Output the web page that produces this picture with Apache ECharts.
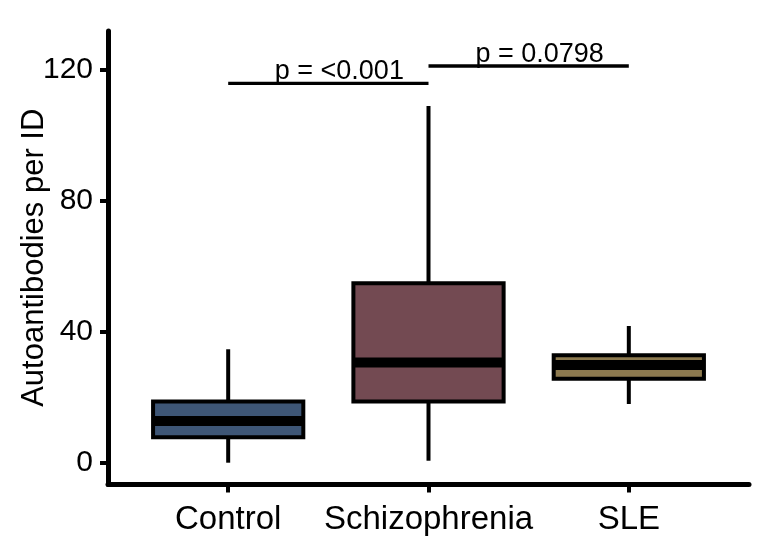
<!DOCTYPE html>
<html>
<head>
<meta charset="utf-8">
<script src="https://cdn.jsdelivr.net/npm/echarts@6/dist/echarts.min.js"></script>
<style>
  html, body { margin: 0; padding: 0; background: #fff; }
  #main { width: 776px; height: 558px; }
</style>
</head>
<body>
<div id="main"></div>
<script>
// groups and their box statistics
const categories = ["Control", "Schizophrenia", "SLE"];
const boxMin = [0, 0.6, 17.9];
const boxQ1 = [7.8, 18.7, 25.6];
const boxMedian = [12.7, 30.6, 29.8];
const boxQ3 = [18.7, 54.7, 32.8];
const boxMax = [34.6, 108.8, 41.7];
const boxColors = ["#3e5676", "#734a52", "#8d7a4f"];

// significance brackets
const compFrom = [1, 2];
const compTo = [2, 3];
const compY = [115.7, 121.0];
const compLabel = ["p = <0.001", "p = 0.0798"];

const yTicks = [0, 40, 80, 120];

const FONT = "'Liberation Sans', Arial, Helvetica, sans-serif";
const BOX_HALF = 0.375;

let chart = echarts.init(document.getElementById("main"));

const boxData = categories.map((c, i) => [
  i + 1, boxMin[i], boxQ1[i], boxMedian[i], boxQ3[i], boxMax[i], i
]);
const compData = compFrom.map((f, i) => [f, compTo[i], compY[i], i]);

function renderBox(params, api) {
  const x = api.value(0);
  const idx = api.value(6);
  const pMin = api.coord([x, api.value(1)]);
  const pQ1 = api.coord([x, api.value(2)]);
  const pMed = api.coord([x, api.value(3)]);
  const pQ3 = api.coord([x, api.value(4)]);
  const pMax = api.coord([x, api.value(5)]);
  const left = api.coord([x - BOX_HALF, 0])[0];
  const right = api.coord([x + BOX_HALF, 0])[0];
  const line = { stroke: "#000", lineWidth: 4, lineCap: "butt" };
  return {
    type: "group",
    children: [
      { type: "line", shape: { x1: pMax[0], y1: pMax[1], x2: pQ3[0], y2: pQ3[1] }, style: line },
      { type: "line", shape: { x1: pMin[0], y1: pMin[1], x2: pQ1[0], y2: pQ1[1] }, style: line },
      {
        type: "rect",
        shape: { x: left, y: pQ3[1], width: right - left, height: pQ1[1] - pQ3[1] },
        style: { fill: boxColors[idx], stroke: "#000", lineWidth: 4 }
      },
      {
        type: "line",
        shape: { x1: left, y1: pMed[1], x2: right, y2: pMed[1] },
        style: { stroke: "#000", lineWidth: 10, lineCap: "butt" }
      }
    ]
  };
}

function renderComp(params, api) {
  const a = api.coord([api.value(0), api.value(2)]);
  const b = api.coord([api.value(1), api.value(2)]);
  const idx = api.value(3);
  return {
    type: "group",
    children: [
      {
        type: "line",
        shape: { x1: a[0], y1: a[1], x2: b[0], y2: b[1] },
        style: { stroke: "#000", lineWidth: 3.3 }
      },
      {
        type: "text",
        x: (a[0] + b[0]) / 2 + 11,
        y: a[1] + 2,
        style: {
          text: compLabel[idx],
          fill: "#000",
          font: "27px " + FONT,
          align: "center",
          verticalAlign: "bottom"
        }
      }
    ]
  };
}

const option = {
  animation: false,
  backgroundColor: "#fff",
  grid: { left: 108, right: 27, top: 31, bottom: 73.5, outerBoundsMode: "none", containLabel: false },
  xAxis: {
    type: "value",
    min: 0.4,
    max: 3.6,
    splitLine: { show: false },
    axisLine: { show: true, onZero: false, lineStyle: { color: "#000", width: 5 } },
    axisTick: { show: true, customValues: [1, 2, 3], length: 8, lineStyle: { color: "#000", width: 4 } },
    axisLabel: {
      customValues: [1, 2, 3],
      formatter: v => categories[Math.round(v) - 1],
      color: "#000",
      fontSize: 33,
      fontFamily: FONT,
      margin: 19
    }
  },
  yAxis: {
    type: "value",
    min: -6.65,
    max: 131.68,
    name: "Autoantibodies per ID",
    nameLocation: "middle",
    nameRotate: 90,
    nameGap: 58,
    nameMoveOverlap: false,
    nameTextStyle: { color: "#000", fontSize: 31, fontFamily: FONT },
    splitLine: { show: false },
    axisLine: { show: true, onZero: false, lineStyle: { color: "#000", width: 5 } },
    axisTick: { show: true, customValues: yTicks, length: 8, lineStyle: { color: "#000", width: 4 } },
    axisLabel: {
      customValues: yTicks,
      color: "#000",
      fontSize: 30,
      fontFamily: FONT,
      margin: 15
    }
  },
  series: [
    { type: "custom", renderItem: renderBox, data: boxData, clip: false },
    { type: "custom", renderItem: renderComp, data: compData, clip: false }
  ]
};

chart.setOption(option);
</script>
</body>
</html>
